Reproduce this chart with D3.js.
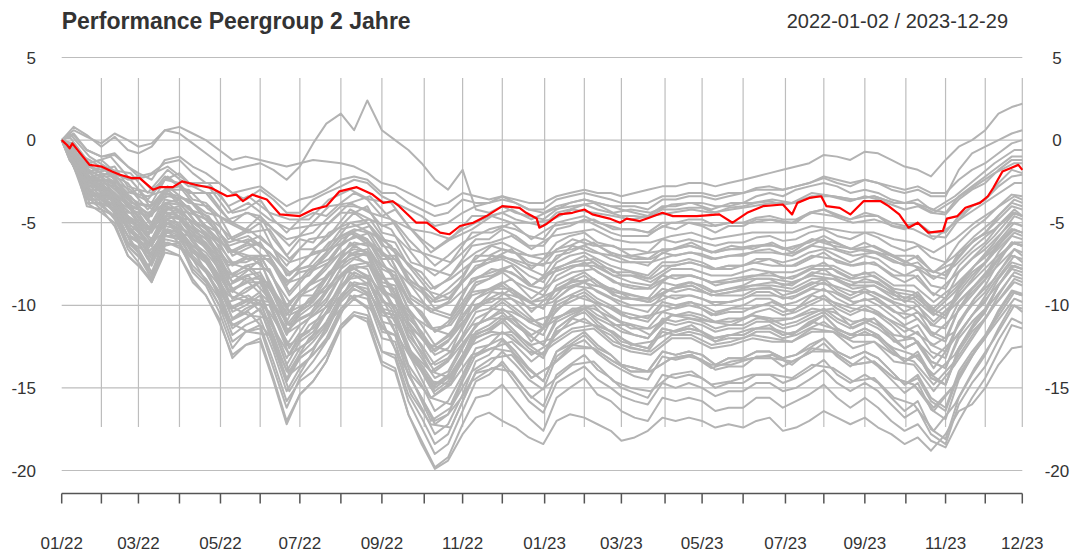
<!DOCTYPE html>
<html><head><meta charset="utf-8">
<script src="https://cdn.jsdelivr.net/npm/d3@7"></script>
<style>html,body{margin:0;padding:0;background:#fff;}svg{display:block;font-family:"Liberation Sans",Arial,Helvetica,sans-serif;}</style>
</head><body>
<svg id="chart" width="1079" height="553"></svg>
<script>
// ---------- DATA ----------
const titleText = "Performance Peergroup 2 Jahre";
const rangeText = "2022-01-02 / 2023-12-29";
const yTicks = [5, 0, -5, -10, -15, -20];
const tickDates = ["2022-01-02","2022-02-01","2022-03-01","2022-04-01","2022-05-02","2022-06-01","2022-07-01","2022-08-01","2022-09-01","2022-10-03","2022-11-01","2022-12-01","2023-01-02","2023-02-01","2023-03-01","2023-04-03","2023-05-01","2023-06-01","2023-07-03","2023-08-01","2023-09-01","2023-10-02","2023-11-01","2023-12-01","2023-12-29"];
const labelDates = ["2022-01-02","2022-03-01","2022-05-02","2022-07-01","2022-09-01","2022-11-01","2023-01-02","2023-03-01","2023-05-01","2023-07-03","2023-09-01","2023-11-01","2023-12-29"];
const tickLabels = ["01/22","03/22","05/22","07/22","09/22","11/22","01/23","03/23","05/23","07/23","09/23","11/23","12/23"];

// peer group A: sampled on the 1st / 11th / 21st of each month
const gridDatesA = ["2022-01-02","2022-01-11","2022-01-21","2022-02-01","2022-02-11","2022-02-21","2022-03-01","2022-03-11","2022-03-21","2022-04-01","2022-04-11","2022-04-21",
"2022-05-01","2022-05-11","2022-05-21","2022-06-01","2022-06-11","2022-06-21","2022-07-01","2022-07-11","2022-07-21","2022-08-01","2022-08-11","2022-08-21",
"2022-09-01","2022-09-11","2022-09-21","2022-10-01","2022-10-11","2022-10-21","2022-11-01","2022-11-11","2022-11-21","2022-12-01","2022-12-11","2022-12-21",
"2023-01-01","2023-01-11","2023-01-21","2023-02-01","2023-02-11","2023-02-21","2023-03-01","2023-03-11","2023-03-21","2023-04-01","2023-04-11","2023-04-21",
"2023-05-01","2023-05-11","2023-05-21","2023-06-01","2023-06-11","2023-06-21","2023-07-01","2023-07-11","2023-07-21","2023-08-01","2023-08-11","2023-08-21",
"2023-09-01","2023-09-11","2023-09-21","2023-10-01","2023-10-11","2023-10-21","2023-11-01","2023-11-11","2023-11-21","2023-12-01","2023-12-11","2023-12-21","2023-12-29"];

const p01 = [0,0.8,0.3,-0.4,0.2,-0.6,-0.8,-0.4,0.6,0.4,-0.2,-0.8,
-1.4,-1.8,-1.6,-1.4,-1.8,-2.4,-1.6,-0.2,1.0,1.6,0.6,2.4,
0.6,0.0,-0.6,-1.4,-2.4,-3.0,-1.8,-4.2,-4.4,-4.0,-4.4,-4.6,
-4.8,-4.2,-3.8,-3.6,-3.8,-4.0,-4.2,-4.4,-4.6,-4.0,-4.0,-3.8,
-3.8,-4.0,-4.0,-3.8,-3.4,-3.2,-3.4,-3.0,-2.8,-2.6,-2.8,-3.2,
-3.0,-3.2,-3.6,-3.8,-3.6,-4.2,-4.4,-3.4,-2.8,-2.2,-1.6,-1.0,-1.0];
const p02 = [0,0.4,-0.6,-1.0,-0.8,-1.6,-2.0,-2.4,-1.2,-1.0,-1.6,-2.0,
-2.6,-3.2,-3.0,-2.8,-3.4,-4.0,-3.6,-3.4,-3.0,-2.4,-2.2,-2.4,
-3.2,-3.2,-3.8,-4.2,-4.6,-4.4,-3.6,-3.8,-3.8,-3.6,-3.8,-4.2,
-4.4,-4.0,-3.8,-3.6,-3.8,-4.0,-4.0,-4.0,-4.2,-3.6,-3.6,-3.4,
-3.4,-3.6,-3.4,-3.2,-3.0,-3.0,-3.0,-2.8,-2.6,-2.2,-2.4,-2.6,
-2.4,-2.6,-3.0,-3.2,-3.0,-3.4,-3.4,-1.8,-0.8,-0.4,0.0,0.4,0.6];
const p03 = [0,0.6,0.2,-0.2,0.4,0.0,-0.4,-0.2,0.6,0.8,0.4,0.0,
-0.6,-1.2,-1.0,-1.2,-1.4,-1.6,-1.4,-1.2,-1.3,-1.4,-1.6,-2.0,
-2.6,-2.8,-3.2,-3.6,-4.0,-3.8,-3.2,-3.4,-3.6,-3.4,-3.6,-3.8,
-3.8,-3.4,-3.2,-3.0,-3.2,-3.2,-3.4,-3.2,-3.0,-2.8,-2.8,-2.6,
-2.6,-2.8,-2.6,-2.4,-2.2,-2.0,-1.8,-1.6,-1.4,-0.9,-1.0,-1.2,
-0.7,-0.8,-1.2,-1.6,-1.8,-2.2,-1.2,-0.4,0.0,0.6,1.6,2.0,2.2];
const p04 = [0,0.3,-0.6,-1.0,-0.9,-1.6,-2.2,-2.0,-1.4,-1.2,-2.0,-2.6,
-2.6,-3.2,-3.6,-3.0,-3.6,-4.4,-4.4,-3.6,-3.2,-2.8,-2.4,-2.6,
-3.4,-3.8,-4.2,-4.6,-5.2,-5.0,-4.4,-4.0,-3.8,-3.4,-3.8,-4.2,
-4.2,-3.6,-3.4,-3.2,-3.4,-3.6,-3.8,-3.8,-3.8,-3.4,-3.4,-3.2,
-3.2,-3.4,-3.2,-3.2,-2.9,-2.8,-3.0,-2.8,-2.6,-2.3,-2.6,-2.8,
-2.4,-2.6,-2.8,-3.0,-2.8,-3.2,-3.2,-2.4,-1.8,-1.4,-0.8,-0.2,0.0];
const p05 = [0,-0.8,-1.4,-1.2,-1.9,-2.4,-2.2,-3.0,-2.4,-2.0,-2.8,-3.2,
-3.2,-4.4,-4.2,-3.6,-4.8,-5.6,-4.8,-4.4,-4.6,-3.8,-3.2,-3.6,
-4.6,-4.2,-5.2,-6.0,-6.6,-6.0,-5.4,-5.0,-4.6,-4.4,-4.8,-5.0,
-5.2,-4.4,-4.2,-3.9,-4.2,-4.4,-4.6,-4.6,-4.7,-4.2,-4.2,-4.1,
-4.1,-4.4,-4.1,-4.0,-3.8,-3.7,-3.9,-3.8,-3.5,-3.3,-3.5,-3.7,
-3.4,-3.6,-3.9,-4.2,-4.0,-4.4,-4.5,-3.6,-3.0,-2.6,-1.8,-1.2,-1.2];
const p06 = [0,-0.2,-1.6,-1.8,-1.6,-2.8,-3.0,-3.2,-2.2,-2.8,-3.2,-3.2,
-4.2,-5.0,-4.4,-4.6,-5.4,-6.0,-5.8,-5.6,-4.8,-4.0,-4.0,-4.2,
-5.2,-5.0,-6.0,-6.8,-7.6,-7.0,-6.2,-5.8,-5.4,-5.2,-5.4,-5.8,
-6.0,-5.0,-4.8,-4.6,-5.0,-5.2,-5.4,-5.4,-5.6,-5.0,-5.0,-4.8,
-4.8,-5.2,-5.0,-5.0,-4.7,-4.6,-4.8,-4.8,-4.4,-4.2,-4.5,-4.8,
-4.4,-4.6,-5.0,-5.2,-5.0,-5.6,-5.6,-4.6,-4.0,-3.6,-2.8,-2.2,-2.1];
const p07 = [0,-1.0,-1.4,-2.0,-2.2,-2.6,-3.4,-3.8,-2.4,-2.6,-3.6,-3.8,
-4.6,-5.0,-5.4,-4.6,-6.0,-7.0,-6.0,-6.2,-5.2,-4.4,-4.4,-4.0,
-5.6,-5.8,-6.6,-7.6,-8.2,-7.6,-6.8,-6.0,-6.0,-5.4,-5.8,-6.4,
-6.4,-5.4,-5.2,-4.8,-5.2,-5.6,-5.8,-5.8,-5.8,-5.2,-5.4,-5.0,
-5.2,-5.6,-5.2,-5.2,-4.8,-4.8,-5.0,-5.0,-4.4,-4.2,-4.6,-4.8,
-4.6,-4.6,-5.2,-5.4,-5.0,-5.8,-5.9,-4.8,-4.0,-3.6,-2.6,-1.8,-2.0];
const p08 = [0,-0.4,-2.0,-1.6,-2.4,-3.2,-3.0,-4.2,-3.0,-2.8,-3.8,-4.4,
-4.6,-6.0,-5.6,-5.0,-6.6,-7.6,-6.6,-6.6,-6.0,-5.2,-4.4,-5.0,
-6.0,-6.2,-7.6,-8.0,-9.0,-8.4,-7.4,-6.8,-6.4,-6.2,-6.6,-7.0,
-7.2,-6.2,-5.8,-5.6,-6.2,-6.4,-6.6,-6.6,-6.8,-6.0,-6.2,-6.0,
-6.2,-6.4,-6.2,-6.2,-5.9,-5.8,-6.1,-6.0,-5.6,-5.4,-5.8,-6.0,
-5.6,-5.9,-6.4,-6.7,-6.4,-7.1,-7.4,-6.2,-5.4,-4.8,-4.0,-3.3,-3.4];
const p09 = [0,-1.2,-1.8,-2.2,-2.2,-3.4,-3.8,-4.0,-3.2,-3.4,-3.8,-4.6,
-5.2,-6.0,-6.2,-5.8,-6.6,-8.2,-7.6,-6.8,-6.6,-5.4,-5.2,-5.0,
-6.4,-6.6,-7.6,-8.6,-9.6,-9.0,-8.2,-7.0,-7.0,-6.6,-6.8,-7.4,
-7.6,-6.6,-6.4,-6.0,-6.4,-6.8,-7.0,-7.2,-7.2,-6.6,-6.6,-6.4,
-6.6,-6.8,-6.6,-6.6,-6.4,-6.3,-6.6,-6.4,-6.2,-5.8,-6.2,-6.6,
-6.2,-6.6,-7.0,-7.4,-7.0,-7.9,-8.2,-6.8,-6.2,-5.6,-4.8,-4.0,-4.2];
const p10 = [0,-0.6,-2.2,-2.4,-2.6,-3.6,-4.0,-4.6,-3.2,-3.6,-4.4,-4.8,
-5.6,-6.8,-6.4,-6.2,-7.4,-8.8,-7.8,-7.6,-6.8,-5.8,-5.4,-5.6,
-7.0,-7.0,-8.6,-9.2,-10.2,-9.8,-8.6,-7.6,-7.4,-7.0,-7.4,-7.8,
-8.2,-7.0,-6.8,-6.4,-6.8,-7.2,-7.4,-7.4,-7.6,-6.8,-7.0,-6.8,
-6.9,-7.2,-7.0,-7.0,-6.7,-6.6,-6.9,-6.8,-6.4,-6.0,-6.6,-6.8,
-6.6,-6.8,-7.2,-7.6,-7.4,-8.2,-8.4,-7.0,-6.2,-5.6,-4.6,-3.8,-4.0];
const p11 = [0,-1.4,-2.4,-2.2,-3.0,-3.8,-4.2,-5.0,-3.6,-3.8,-4.8,-5.4,
-6.2,-7.6,-7.2,-7.0,-8.4,-10.2,-9.2,-8.4,-7.6,-6.4,-5.8,-6.0,
-7.2,-7.2,-8.4,-9.0,-9.8,-9.6,-8.6,-7.8,-7.4,-7.2,-7.6,-8.2,
-8.6,-7.4,-7.0,-6.8,-7.2,-7.6,-7.8,-8.0,-8.2,-7.4,-7.4,-7.2,
-7.4,-7.8,-7.6,-7.6,-7.4,-7.2,-7.6,-7.6,-7.2,-6.8,-7.4,-7.6,
-7.4,-7.6,-8.2,-8.6,-8.2,-9.2,-9.6,-8.0,-7.2,-6.6,-5.8,-5.0,-5.2];
const p12 = [0,-0.6,-1.8,-2.6,-2.8,-4.0,-4.2,-5.2,-3.8,-3.6,-4.4,-5.2,
-5.6,-7.0,-6.6,-6.2,-7.4,-8.6,-8.0,-7.8,-7.0,-6.0,-5.6,-6.0,
-7.6,-8.0,-9.6,-10.6,-11.6,-11.2,-10.0,-8.8,-8.4,-7.8,-8.2,-8.8,
-9.0,-7.8,-7.4,-7.0,-7.6,-7.8,-8.2,-8.2,-8.4,-7.6,-7.6,-7.4,
-7.6,-7.8,-7.6,-7.6,-7.2,-7.2,-7.4,-7.2,-6.8,-6.6,-7.0,-7.4,
-7.0,-7.2,-7.8,-8.2,-7.8,-8.8,-9.0,-7.6,-6.8,-6.2,-5.2,-4.4,-4.6];
const p13 = [0,-0.8,-2.6,-2.4,-3.2,-4.0,-4.6,-5.4,-4.0,-4.2,-5.0,-5.6,
-6.4,-7.4,-7.4,-7.0,-8.4,-10.0,-9.2,-8.6,-7.8,-6.8,-6.2,-6.4,
-7.8,-8.2,-9.8,-10.4,-11.6,-11.0,-9.8,-8.6,-8.4,-8.0,-8.6,-9.0,
-9.4,-8.2,-7.8,-7.4,-8.0,-8.4,-8.8,-9.0,-9.0,-8.2,-8.4,-8.2,
-8.4,-8.8,-8.6,-8.4,-8.2,-8.0,-8.4,-8.2,-7.8,-7.4,-8.0,-8.4,
-8.0,-8.4,-9.0,-9.6,-9.2,-10.2,-10.6,-9.0,-8.0,-7.4,-6.4,-5.4,-5.6];
const p14 = [0,-1.2,-2.2,-2.8,-3.2,-4.4,-4.4,-5.6,-4.2,-4.0,-5.2,-5.8,
-6.8,-8.2,-7.6,-7.4,-9.0,-10.6,-9.4,-9.0,-8.4,-7.0,-6.6,-6.8,
-8.4,-8.4,-10.2,-11.2,-12.4,-11.8,-10.8,-9.6,-9.2,-8.8,-9.4,-9.8,
-10.2,-9.0,-8.6,-8.2,-8.8,-9.2,-9.6,-9.6,-9.8,-9.0,-9.2,-9.0,
-9.2,-9.4,-9.4,-9.4,-9.0,-8.9,-9.4,-9.2,-8.8,-8.4,-9.0,-9.4,
-9.0,-9.4,-9.8,-10.4,-10.0,-11.2,-11.4,-9.8,-9.0,-8.2,-7.2,-6.2,-6.4];
const p15 = [0,-0.6,-2.8,-2.6,-3.4,-4.6,-5.0,-5.4,-4.4,-4.4,-5.4,-6.0,
-7.0,-8.6,-8.0,-7.2,-9.4,-11.0,-9.4,-9.4,-8.2,-7.4,-6.8,-6.6,
-8.6,-8.8,-10.8,-11.6,-12.8,-12.2,-10.6,-9.6,-9.0,-8.6,-9.2,-9.8,
-10.2,-8.8,-8.4,-8.0,-8.6,-9.0,-9.2,-9.4,-9.6,-8.6,-8.8,-8.6,
-8.8,-9.2,-9.0,-8.8,-8.4,-8.4,-8.8,-8.6,-8.2,-7.8,-8.4,-8.8,
-8.4,-8.6,-9.2,-9.8,-9.4,-10.4,-10.8,-9.2,-8.2,-7.4,-6.2,-5.4,-5.6];
const p16 = [0,-1.0,-2.4,-3.0,-3.4,-4.6,-5.2,-6.0,-4.4,-4.6,-5.6,-6.2,
-7.2,-8.6,-8.2,-8.0,-9.4,-11.2,-10.2,-9.6,-8.8,-7.4,-6.8,-7.0,
-8.8,-9.0,-11.0,-12.0,-13.0,-12.6,-11.4,-10.0,-9.6,-9.2,-9.8,-10.6,
-11.4,-9.6,-9.0,-8.6,-9.2,-9.6,-10.0,-10.2,-10.4,-9.4,-9.6,-9.4,
-9.6,-10.0,-9.8,-9.6,-9.2,-9.2,-9.6,-9.4,-9.0,-8.6,-9.2,-9.6,
-9.2,-9.6,-10.2,-10.8,-10.4,-11.6,-12.0,-10.2,-9.2,-8.4,-7.2,-6.2,-6.4];
const p17 = [0,-1.2,-2.8,-2.8,-3.6,-4.8,-5.2,-6.2,-4.6,-4.8,-5.8,-6.4,
-7.4,-9.0,-8.6,-8.2,-9.8,-11.6,-10.6,-10.0,-9.2,-7.8,-7.2,-7.4,
-9.2,-9.4,-11.4,-12.4,-13.6,-13.2,-12.0,-10.8,-10.4,-9.8,-10.4,-11.0,
-11.4,-10.0,-9.6,-9.2,-9.8,-10.2,-10.6,-10.8,-11.0,-10.0,-10.2,-10.0,
-10.2,-10.6,-10.4,-10.4,-10.0,-10.0,-10.4,-10.2,-9.8,-9.4,-10.0,-10.4,
-10.0,-10.4,-11.0,-11.6,-11.2,-12.4,-12.8,-11.0,-10.0,-9.2,-8.0,-7.0,-7.2];
const p18 = [0,-0.8,-2.4,-3.2,-3.6,-4.6,-5.4,-6.4,-4.8,-4.6,-5.6,-6.6,
-7.6,-9.2,-8.4,-8.4,-10.0,-11.8,-10.4,-9.8,-8.8,-7.2,-6.4,-6.8,
-9.0,-9.6,-11.8,-12.8,-14.0,-13.4,-11.8,-10.4,-10.2,-9.6,-10.2,-10.8,
-11.2,-9.8,-9.4,-9.0,-9.6,-10.0,-10.4,-10.6,-10.8,-9.8,-10.0,-9.8,
-10.0,-10.4,-10.2,-10.0,-9.6,-9.6,-10.0,-9.8,-9.4,-9.0,-9.6,-10.0,
-9.6,-10.0,-10.6,-11.2,-10.8,-11.8,-12.2,-10.2,-9.0,-8.2,-6.8,-5.8,-6.0];
const p19 = [0,-1.0,-3.0,-3.0,-3.8,-5.0,-5.6,-6.4,-4.8,-5.0,-6.2,-6.8,
-7.8,-9.6,-9.2,-8.6,-10.4,-12.4,-11.2,-10.6,-9.8,-8.2,-7.6,-7.8,
-9.8,-10.0,-12.0,-13.2,-14.4,-14.0,-12.4,-11.2,-10.8,-10.4,-11.2,-11.8,
-12.4,-11.0,-10.6,-10.2,-10.8,-11.2,-11.6,-11.8,-12.0,-11.0,-11.2,-11.0,
-11.2,-11.6,-11.4,-11.4,-11.0,-11.0,-11.4,-11.2,-10.8,-10.4,-11.0,-11.4,
-11.0,-11.4,-12.0,-12.6,-12.2,-13.4,-13.8,-12.0,-11.0,-10.2,-8.8,-7.8,-8.0];
const p20 = [0,-1.4,-2.6,-3.4,-3.6,-5.2,-5.8,-6.4,-5.0,-5.4,-6.4,-7.0,
-8.2,-9.6,-9.0,-8.6,-10.0,-11.6,-10.8,-10.4,-9.6,-8.2,-7.8,-8.2,
-10.2,-10.4,-12.6,-13.8,-15.0,-14.4,-13.0,-11.6,-11.2,-10.6,-11.2,-11.8,
-12.4,-10.8,-10.4,-10.0,-10.6,-11.0,-11.4,-11.8,-12.0,-10.8,-11.0,-10.8,
-11.0,-11.4,-11.2,-11.2,-10.8,-10.8,-11.2,-11.0,-10.6,-10.2,-10.8,-11.2,
-10.8,-11.2,-11.8,-12.6,-12.2,-13.4,-13.8,-11.8,-10.6,-9.8,-8.4,-7.4,-7.6];
const p21 = [0,-0.8,-3.2,-3.4,-3.6,-5.4,-5.4,-7.0,-5.2,-5.4,-6.6,-7.2,
-8.4,-10.2,-9.8,-9.2,-11.2,-13.2,-11.8,-11.4,-10.4,-8.8,-8.2,-8.4,
-10.4,-10.6,-12.8,-14.0,-15.4,-14.8,-13.4,-12.0,-11.6,-11.0,-11.8,-12.6,
-13.2,-11.6,-11.2,-10.8,-11.4,-11.8,-12.4,-12.6,-12.8,-11.6,-11.8,-11.6,
-11.8,-12.2,-12.0,-12.0,-11.6,-11.6,-12.0,-11.8,-11.4,-11.0,-11.6,-12.0,
-11.6,-12.0,-12.8,-13.4,-13.0,-14.4,-14.8,-12.8,-11.6,-10.8,-9.4,-8.2,-8.4];
const p22 = [0,-1.0,-3.0,-3.6,-4.2,-5.4,-6.0,-7.2,-5.4,-5.6,-6.8,-7.4,
-8.6,-10.4,-10.0,-9.4,-11.4,-13.6,-12.2,-11.6,-10.4,-8.8,-8.0,-8.4,
-10.4,-10.6,-12.6,-13.6,-14.8,-14.2,-12.6,-11.2,-10.8,-10.2,-10.8,-11.4,
-11.8,-10.2,-9.8,-9.4,-10.0,-10.6,-11.0,-11.2,-11.4,-10.4,-10.6,-10.4,
-10.6,-11.0,-10.8,-10.8,-10.4,-10.2,-10.6,-10.4,-10.0,-9.6,-10.2,-10.6,
-10.2,-10.6,-11.2,-12.0,-11.6,-12.8,-13.2,-11.0,-9.8,-8.8,-7.4,-6.2,-6.4];
const p23 = [0,-1.4,-3.4,-3.2,-4.4,-5.8,-6.2,-7.4,-5.6,-5.4,-7.0,-7.8,
-8.8,-10.8,-10.4,-9.8,-11.8,-14.0,-12.6,-12.0,-11.0,-9.4,-8.6,-8.8,
-11.0,-11.2,-13.6,-14.8,-16.4,-15.8,-14.2,-12.6,-12.4,-12.0,-12.8,-13.8,
-14.6,-12.8,-12.4,-11.8,-12.6,-13.0,-13.6,-13.8,-14.0,-12.8,-13.0,-12.8,
-13.0,-13.6,-13.2,-13.2,-12.8,-12.8,-13.2,-13.0,-12.6,-12.0,-12.8,-13.2,
-12.8,-13.2,-14.0,-14.8,-14.2,-15.6,-16.2,-14.0,-12.8,-11.8,-10.4,-9.2,-9.4];
const p24 = [0,-1.0,-3.6,-3.6,-4.4,-6.2,-6.8,-8.2,-5.8,-6.0,-7.2,-8.0,
-9.4,-11.4,-10.8,-10.2,-12.4,-14.6,-13.2,-12.6,-11.6,-9.8,-9.0,-9.4,
-11.6,-11.8,-14.2,-15.6,-17.2,-16.6,-14.6,-13.0,-12.4,-11.6,-12.2,-12.8,
-13.0,-11.4,-10.8,-10.2,-11.0,-11.6,-12.0,-12.4,-12.6,-11.4,-11.6,-11.4,
-11.6,-12.0,-11.8,-11.8,-11.4,-11.2,-11.8,-11.6,-11.0,-10.6,-11.4,-11.8,
-11.4,-11.8,-12.6,-13.4,-13.0,-14.4,-14.8,-12.6,-11.4,-10.4,-8.8,-7.6,-7.8];
const p25 = [0,-1.6,-3.2,-4.0,-4.6,-6.2,-6.6,-8.0,-6.0,-6.2,-7.6,-8.4,
-9.6,-11.8,-11.2,-10.8,-12.8,-15.2,-13.8,-13.0,-12.0,-10.2,-9.4,-9.6,
-12.0,-12.2,-14.8,-16.2,-17.8,-17.2,-15.4,-13.4,-13.0,-12.1,-13.0,-13.9,
-14.6,-12.8,-12.2,-11.6,-12.4,-13.0,-13.6,-13.8,-14.0,-12.8,-13.0,-12.8,
-13.0,-13.6,-13.2,-13.2,-12.8,-12.8,-13.2,-13.0,-12.4,-12.0,-12.8,-13.2,
-12.8,-13.2,-14.0,-14.8,-14.4,-15.8,-16.4,-14.2,-13.0,-12.0,-10.4,-9.2,-9.4];
const p26 = [0,-1.2,-3.8,-3.8,-4.8,-6.4,-7.0,-8.4,-6.2,-6.4,-7.8,-8.6,
-10.0,-12.2,-11.6,-11.2,-13.4,-15.8,-14.6,-14.0,-13.0,-11.2,-10.4,-10.6,
-12.8,-13.0,-15.4,-16.8,-18.4,-17.8,-15.8,-14.0,-13.6,-12.8,-13.6,-14.5,
-15.1,-13.1,-12.5,-12.1,-12.9,-13.5,-13.9,-14.3,-14.5,-13.1,-13.3,-13.1,
-13.3,-13.9,-13.7,-13.7,-13.1,-13.1,-13.7,-13.3,-12.9,-12.3,-13.1,-13.7,
-13.1,-13.7,-14.5,-15.3,-14.7,-16.3,-16.9,-14.5,-13.1,-11.9,-10.3,-9.1,-9.3];
const p27 = [0,-1.6,-3.4,-4.2,-4.6,-6.6,-7.4,-8.6,-6.4,-6.2,-8.0,-8.8,
-10.4,-12.6,-11.6,-11.4,-13.8,-16.2,-14.4,-13.4,-12.2,-10.4,-9.6,-10.2,
-12.8,-13.2,-15.8,-17.4,-19.0,-18.4,-16.4,-14.6,-14.2,-13.4,-14.4,-15.4,
-16.1,-14.2,-13.6,-13.0,-13.9,-14.4,-15.0,-15.3,-15.6,-14.2,-14.4,-14.2,
-14.4,-15.0,-14.7,-14.7,-14.2,-14.2,-14.7,-14.4,-13.9,-13.3,-14.2,-14.7,
-14.2,-14.7,-15.6,-16.4,-15.8,-17.5,-18.1,-15.6,-14.2,-13.0,-11.4,-10.0,-10.2];
const p28 = [0,-1.2,-4.0,-4.2,-5.2,-7.0,-7.6,-8.4,-6.6,-7.0,-8.4,-9.4,
-10.8,-13.2,-12.4,-12.0,-14.4,-17.0,-15.4,-14.6,-13.4,-11.4,-10.6,-10.8,
-13.4,-13.8,-16.6,-18.2,-19.8,-19.2,-17.2,-15.6,-15.4,-14.8,-15.8,-16.8,
-17.6,-15.6,-15.0,-14.4,-15.4,-15.8,-16.4,-16.8,-17.0,-15.6,-15.8,-15.6,
-15.8,-16.4,-16.2,-16.2,-15.6,-15.6,-16.2,-15.8,-15.4,-14.8,-15.6,-16.2,
-15.6,-16.2,-17.0,-17.6,-17.2,-18.2,-18.6,-17.0,-15.6,-14.4,-12.8,-11.2,-11.4];
const p29 = [0,-1.6,-3.8,-4.4,-5.0,-7.0,-7.6,-8.6,-6.8,-7.0,-8.6,-9.4,
-11.0,-13.0,-12.4,-12.2,-14.6,-17.2,-15.4,-14.6,-13.4,-11.2,-10.6,-11.0,
-13.6,-14.0,-16.6,-18.4,-19.9,-19.4,-17.8,-16.8,-16.5,-17.0,-17.4,-18.0,
-18.4,-17.0,-16.6,-16.8,-17.2,-17.6,-18.2,-18.0,-17.6,-16.8,-17.0,-16.8,
-17.0,-17.4,-17.2,-17.4,-17.0,-16.8,-17.6,-17.4,-17.0,-16.4,-16.8,-17.2,
-16.8,-17.4,-17.8,-18.4,-18.0,-18.8,-17.8,-16.4,-16.0,-15.0,-13.6,-12.6,-12.5];
const p30 = [0,-1.0,-3.0,-3.8,-4.2,-5.8,-6.2,-7.6,-5.8,-5.8,-7.2,-8.0,
-9.2,-11.2,-10.8,-10.2,-12.2,-14.4,-13.2,-12.6,-11.4,-9.6,-8.8,-9.2,
-11.4,-11.8,-14.2,-15.6,-17.0,-16.6,-15.5,-14.1,-13.9,-13.6,-14.7,-15.8,
-16.5,-14.7,-14.2,-13.7,-14.5,-15.0,-15.5,-15.8,-16.0,-14.7,-15.0,-14.7,
-15.0,-15.5,-15.2,-15.2,-14.7,-14.7,-15.2,-15.0,-14.5,-13.9,-14.7,-15.2,
-14.7,-15.2,-16.0,-16.8,-16.3,-17.8,-18.4,-16.0,-14.7,-13.7,-12.1,-10.8,-11.1];
const p31 = [0,-0.8,-2.8,-3.6,-4.0,-5.2,-6.0,-7.0,-5.4,-5.8,-6.8,-7.2,
-8.8,-10.8,-10.2,-9.8,-12.0,-14.6,-13.0,-12.2,-11.2,-9.6,-8.8,-9.0,
-10.6,-10.8,-12.8,-13.8,-15.2,-14.6,-13.2,-11.8,-11.4,-10.8,-11.6,-12.4,
-13.0,-11.4,-10.8,-10.4,-11.2,-11.6,-12.2,-12.4,-12.6,-11.4,-11.6,-11.4,
-11.6,-12.2,-11.8,-11.8,-11.4,-11.4,-11.8,-11.6,-11.2,-10.6,-11.4,-11.8,
-11.4,-11.8,-12.6,-13.4,-12.8,-14.2,-14.8,-12.6,-11.4,-10.4,-8.8,-7.6,-7.8];
const peersA = [p01,p02,p03,p04,p05,p06,p07,p08,p09,p10,p11,p12,p13,p14,p15,p16,p17,p18,p19,p20,p21,p22,p23,p24,p25,p26,p27,p28,p29,p30,p31];

// peer group B: sampled on the 8th / 23rd of each month
const gridDatesB = ["2022-01-02","2022-01-08","2022-01-23","2022-02-08","2022-02-23","2022-03-08","2022-03-23","2022-04-08","2022-04-23","2022-05-08",
"2022-05-23","2022-06-08","2022-06-23","2022-07-08","2022-07-23","2022-08-08","2022-08-23","2022-09-08","2022-09-23","2022-10-08",
"2022-10-23","2022-11-08","2022-11-23","2022-12-08","2022-12-23","2023-01-08","2023-01-23","2023-02-08","2023-02-23","2023-03-08",
"2023-03-23","2023-04-08","2023-04-23","2023-05-08","2023-05-23","2023-06-08","2023-06-23","2023-07-08","2023-07-23","2023-08-08",
"2023-08-23","2023-09-08","2023-09-23","2023-10-08","2023-10-23","2023-11-08","2023-11-23","2023-12-08","2023-12-23","2023-12-29"];
const q01 = [0,0.2,-1.4,-1.0,-2.4,-2.2,-1.6,-2.6,-2.6,-4.0,-3.4,-4.4,-4.8,-4.8,-3.6,-3.0,-3.6,-3.8,-5.4,-5.6,-6.0,-4.6,-4.6,-4.2,-4.8,-4.2,-4.0,-3.8,-4.4,-4.2,-4.4,-3.9,-3.8,-4.2,-3.8,-3.8,-3.6,-3.8,-3.2,-3.4,-3.6,-3.4,-3.8,-3.8,-4.4,-3.6,-2.8,-2.0,-1.4,-1.4];
const q02 = [0,-0.6,-1.2,-2.0,-2.4,-3.6,-2.2,-3.2,-3.2,-4.8,-4.4,-5.2,-6.4,-5.2,-5.0,-3.8,-4.4,-4.8,-6.6,-7.0,-7.4,-5.6,-5.6,-5.0,-6.0,-5.2,-5.0,-4.8,-5.4,-5.4,-5.6,-5.0,-5.0,-5.2,-5.0,-5.0,-4.8,-5.0,-4.4,-4.6,-5.0,-4.8,-5.2,-5.4,-6.0,-5.0,-4.2,-3.4,-2.6,-2.6];
const q03 = [0,-0.2,-2.0,-1.8,-3.2,-3.4,-3.0,-3.0,-4.2,-5.0,-5.6,-5.4,-7.2,-6.0,-5.8,-4.2,-4.8,-5.4,-7.4,-7.8,-8.2,-6.4,-6.2,-5.8,-6.6,-5.8,-5.6,-5.4,-6.0,-6.2,-6.2,-5.8,-5.6,-6.0,-5.8,-5.6,-5.6,-5.6,-5.2,-5.4,-5.6,-5.6,-6.0,-6.2,-6.8,-6.0,-5.0,-4.2,-3.4,-3.6];
const q04 = [0,-0.8,-1.6,-2.4,-3.0,-4.2,-2.8,-3.8,-4.0,-6.0,-5.4,-6.4,-7.4,-7.0,-5.6,-5.0,-4.8,-6.6,-7.6,-9.0,-8.4,-7.4,-6.4,-6.8,-7.0,-6.8,-6.0,-6.4,-6.4,-7.0,-6.8,-6.6,-6.2,-6.8,-6.4,-6.6,-6.2,-6.8,-6.0,-6.4,-6.6,-6.8,-7.0,-7.6,-8.0,-7.4,-6.0,-5.4,-4.2,-4.6];
const q05 = [0,-0.2,-2.2,-2.0,-3.8,-4.0,-3.4,-3.6,-5.0,-6.2,-5.8,-6.8,-8.2,-7.0,-6.6,-5.0,-5.6,-6.4,-8.6,-9.2,-9.6,-7.4,-7.2,-6.6,-7.8,-6.8,-6.6,-6.2,-7.0,-7.0,-7.2,-6.6,-6.4,-6.8,-6.6,-6.4,-6.4,-6.6,-6.0,-6.2,-6.6,-6.4,-7.0,-7.0,-8.0,-7.0,-5.8,-4.8,-3.6,-3.8];
const q06 = [0,-0.8,-2.0,-2.8,-3.6,-4.8,-3.2,-4.4,-4.8,-6.8,-6.2,-7.4,-8.6,-8.2,-6.6,-6.0,-5.6,-7.6,-8.8,-10.4,-9.8,-8.6,-7.8,-8.0,-8.8,-8.0,-7.6,-7.4,-8.2,-8.2,-8.6,-7.8,-7.8,-8.2,-8.2,-7.8,-8.0,-8.0,-7.6,-7.6,-8.2,-8.0,-8.8,-8.8,-9.8,-8.8,-7.6,-6.6,-5.4,-5.6];
const q07 = [0,-0.4,-2.6,-2.4,-4.2,-4.6,-3.8,-4.0,-5.6,-6.6,-7.2,-7.2,-9.4,-8.0,-7.4,-5.6,-6.4,-7.2,-9.6,-10.4,-10.8,-8.4,-8.2,-7.6,-8.8,-7.8,-7.4,-7.2,-8.0,-8.0,-8.4,-7.6,-7.4,-7.8,-7.8,-7.4,-7.6,-7.6,-7.0,-7.2,-7.6,-7.4,-8.2,-8.2,-9.4,-8.2,-7.0,-5.8,-4.4,-4.6];
const q08 = [0,-1.0,-2.4,-3.0,-4.0,-5.4,-3.8,-4.8,-5.4,-7.6,-7.0,-8.0,-9.8,-8.8,-7.4,-6.4,-6.2,-8.2,-9.8,-11.4,-11.2,-9.4,-9.0,-9.0,-9.8,-9.2,-8.6,-8.4,-9.2,-9.4,-9.6,-9.0,-8.8,-9.4,-9.2,-9.0,-9.0,-9.2,-8.6,-8.8,-9.2,-9.2,-9.8,-10.2,-11.2,-10.0,-8.8,-7.4,-6.2,-6.4];
const q09 = [0,-0.6,-2.2,-3.2,-4.0,-5.6,-4.2,-4.4,-6.0,-7.4,-7.8,-7.8,-10.4,-8.8,-8.2,-6.2,-7.0,-8.0,-10.6,-11.4,-11.8,-9.2,-9.0,-8.4,-9.6,-8.6,-8.0,-7.8,-8.6,-8.8,-9.0,-8.2,-8.2,-8.6,-8.4,-8.2,-8.2,-8.4,-7.8,-7.8,-8.4,-8.2,-9.0,-9.2,-10.2,-9.0,-7.6,-6.4,-5.0,-5.2];
const q10 = [0,-1.2,-2.4,-3.4,-4.2,-5.8,-4.0,-5.2,-5.8,-8.2,-7.6,-8.8,-10.4,-9.8,-8.0,-7.0,-6.8,-9.0,-10.6,-12.6,-11.8,-10.4,-9.6,-9.6,-10.2,-9.8,-8.8,-9.0,-9.6,-10.0,-10.0,-9.4,-9.4,-9.8,-9.8,-9.4,-9.4,-9.6,-9.0,-9.2,-9.8,-9.6,-10.4,-10.6,-11.8,-10.6,-9.2,-7.8,-6.6,-6.8];
const q11 = [0,-0.4,-2.8,-3.0,-5.0,-5.4,-4.6,-4.8,-6.6,-8.0,-8.6,-8.6,-11.2,-9.6,-9.0,-6.8,-7.6,-8.8,-11.4,-12.4,-12.8,-10.0,-9.8,-9.0,-10.4,-9.2,-8.8,-8.4,-9.4,-9.6,-9.8,-9.0,-8.8,-9.4,-9.2,-8.8,-8.8,-9.0,-8.4,-8.4,-9.0,-8.8,-9.6,-9.8,-11.0,-9.8,-8.2,-6.8,-5.6,-5.8];
const q12 = [0,-0.8,-3.0,-3.0,-5.2,-5.6,-4.8,-5.6,-6.4,-8.8,-8.2,-9.6,-11.2,-10.6,-8.8,-7.6,-7.4,-9.8,-11.4,-13.6,-12.8,-11.2,-10.8,-10.8,-11.8,-11.0,-10.2,-10.2,-10.8,-11.4,-11.4,-10.6,-10.6,-11.0,-11.0,-10.6,-10.8,-10.8,-10.2,-10.4,-11.0,-10.8,-11.8,-12.0,-13.2,-12.0,-10.4,-9.0,-7.6,-7.8];
const q13 = [0,-0.4,-2.6,-3.6,-4.8,-6.4,-4.4,-5.8,-6.6,-9.2,-8.6,-9.8,-11.6,-10.8,-9.0,-7.8,-7.6,-10.0,-11.8,-14.0,-13.2,-11.6,-10.2,-10.4,-11.0,-10.6,-9.4,-9.8,-10.2,-10.8,-10.6,-10.2,-9.8,-10.6,-10.2,-10.2,-9.8,-10.4,-9.4,-9.8,-10.2,-10.4,-11.0,-11.6,-12.4,-11.6,-9.6,-8.4,-6.6,-7.0];
const q14 = [0,-1.0,-3.2,-3.4,-5.6,-6.2,-5.0,-5.6,-7.4,-9.0,-9.6,-9.8,-12.6,-10.8,-10.0,-7.6,-8.4,-9.8,-12.8,-14.0,-14.4,-12.0,-11.6,-11.8,-13.0,-12.2,-11.4,-11.2,-12.2,-12.6,-12.8,-11.8,-11.8,-12.4,-12.2,-11.8,-12.0,-12.2,-11.4,-11.6,-12.2,-12.2,-13.0,-13.4,-14.8,-13.4,-11.6,-10.0,-8.6,-8.8];
const q15 = [0,-0.8,-3.4,-3.4,-5.8,-6.4,-5.4,-5.8,-7.6,-9.4,-9.8,-10.0,-13.0,-11.2,-10.4,-8.0,-8.8,-10.2,-13.2,-14.6,-14.8,-11.8,-11.4,-10.6,-12.2,-10.8,-10.4,-10.0,-11.2,-11.2,-11.8,-10.6,-10.8,-11.0,-11.2,-10.6,-11.0,-10.8,-10.4,-10.2,-11.4,-10.8,-12.2,-12.0,-13.8,-12.0,-10.4,-8.6,-7.0,-7.4];
const q16 = [0,-1.2,-3.0,-4.0,-5.4,-7.2,-5.0,-6.4,-7.4,-10.2,-9.6,-11.0,-13.0,-12.2,-10.2,-8.8,-8.6,-11.2,-13.2,-15.6,-14.8,-13.0,-12.6,-12.8,-14.4,-13.6,-12.6,-12.6,-13.4,-14.0,-14.0,-13.2,-13.0,-13.6,-13.6,-13.2,-13.2,-13.4,-12.8,-12.8,-13.6,-13.4,-14.4,-14.8,-16.2,-14.8,-12.8,-11.2,-9.6,-9.8];
const q17 = [0,-0.6,-3.6,-3.6,-6.2,-6.8,-5.6,-6.2,-8.2,-10.0,-10.6,-10.8,-14.0,-12.0,-11.0,-8.6,-9.4,-11.0,-14.2,-15.6,-16.0,-13.2,-12.6,-12.2,-13.4,-12.4,-11.6,-11.4,-12.4,-12.8,-13.0,-12.0,-12.0,-12.6,-12.4,-12.0,-12.2,-12.2,-11.6,-11.6,-12.6,-12.2,-13.4,-13.6,-15.2,-13.6,-11.8,-10.0,-8.4,-8.6];
const q18 = [0,-1.0,-3.4,-4.4,-6.0,-7.8,-5.4,-7.0,-8.0,-11.0,-10.4,-11.8,-14.2,-13.2,-11.0,-9.6,-9.2,-12.2,-14.4,-17.0,-16.2,-14.0,-13.2,-13.0,-14.4,-13.6,-12.4,-12.6,-13.4,-14.0,-14.0,-13.2,-13.0,-13.8,-13.4,-13.2,-13.0,-13.6,-12.6,-12.8,-13.6,-13.4,-14.4,-14.8,-16.4,-14.8,-12.8,-11.0,-9.2,-9.4];
const q19 = [0,-0.6,-3.8,-4.0,-6.6,-7.6,-6.2,-6.8,-8.8,-11.0,-11.6,-11.8,-15.2,-13.2,-12.0,-9.4,-10.2,-12.0,-15.4,-17.2,-17.4,-14.6,-13.8,-14.0,-15.6,-14.6,-13.6,-13.4,-14.6,-15.0,-15.2,-14.2,-14.0,-14.8,-14.6,-14.2,-14.2,-14.4,-13.6,-13.8,-14.6,-14.4,-15.6,-16.0,-17.6,-16.0,-13.8,-12.0,-10.0,-10.4];
const q20 = [0,0.4,-1.0,-1.8,-2.0,-3.2,-1.8,-2.8,-2.8,-4.4,-3.8,-4.8,-5.4,-5.2,-4.0,-3.8,-3.4,-4.8,-5.4,-6.8,-6.0,-5.4,-4.6,-5.0,-5.0,-4.8,-4.2,-4.4,-4.6,-4.8,-4.6,-4.4,-4.2,-4.4,-4.2,-4.0,-3.8,-3.8,-3.4,-3.4,-3.6,-3.4,-3.8,-3.8,-4.2,-3.4,-2.4,-1.4,-0.6,-0.6];
const q21 = [0,-0.2,-2.4,-2.4,-4.0,-4.4,-3.8,-4.0,-5.4,-6.6,-7.0,-7.0,-9.2,-7.8,-7.2,-5.6,-6.2,-7.2,-9.4,-10.2,-10.6,-8.4,-8.0,-7.6,-8.8,-8.0,-7.6,-7.6,-8.2,-8.6,-8.8,-8.2,-8.2,-8.6,-8.6,-8.4,-8.4,-8.6,-8.2,-8.4,-8.8,-8.8,-9.4,-9.6,-10.6,-9.6,-8.4,-7.2,-6.2,-6.2];
const q22 = [0,-1.0,-2.4,-3.4,-4.4,-5.8,-4.0,-5.4,-6.0,-8.4,-7.8,-9.0,-10.6,-10.0,-8.2,-7.2,-6.8,-9.2,-10.8,-12.8,-12.0,-10.4,-9.2,-9.4,-9.8,-9.6,-8.4,-8.8,-9.0,-9.6,-9.6,-9.0,-8.6,-9.2,-9.0,-8.8,-8.6,-8.8,-8.0,-8.2,-8.6,-8.6,-9.2,-9.4,-10.4,-9.2,-7.6,-6.2,-4.6,-4.8];
const q23 = [0,-1.2,-3.0,-3.8,-5.4,-6.6,-4.8,-6.2,-7.2,-9.8,-9.4,-10.4,-12.4,-11.6,-9.8,-8.4,-8.2,-10.6,-12.8,-15.0,-14.2,-12.4,-11.8,-11.6,-12.4,-12.0,-10.8,-11.2,-11.6,-12.4,-12.2,-11.6,-11.2,-12.0,-11.8,-11.4,-11.4,-11.8,-11.0,-11.4,-11.8,-11.8,-12.6,-13.0,-14.2,-13.0,-11.0,-9.6,-8.0,-8.2];
const q24 = [0,-0.8,-1.8,-2.6,-3.4,-4.6,-3.0,-4.2,-4.6,-6.4,-6.0,-6.8,-8.0,-7.6,-6.2,-5.6,-5.2,-7.0,-8.2,-9.8,-9.2,-8.0,-7.0,-7.2,-7.6,-7.4,-6.4,-6.8,-7.0,-7.4,-7.4,-7.0,-6.8,-7.2,-7.0,-6.8,-6.8,-7.0,-6.4,-6.6,-7.0,-6.8,-7.4,-7.6,-8.4,-7.6,-6.4,-5.4,-4.4,-4.6];
const peersB = [q01,q02,q03,q04,q05,q06,q07,q08,q09,q10,q11,q12,q13,q14,q15,q16,q17,q18,q19,q20,q21,q22,q23,q24];

// the highlighted fund (red)
const fundDates = ["2022-01-02","2022-01-06","2022-01-08","2022-01-10","2022-01-23","2022-02-01","2022-02-09","2022-02-15","2022-02-24","2022-03-02",
"2022-03-12","2022-03-17","2022-03-27","2022-04-03","2022-04-13","2022-04-25","2022-05-07","2022-05-14","2022-05-19","2022-05-26",
"2022-06-06","2022-06-16","2022-07-01","2022-07-11","2022-07-21","2022-07-31","2022-08-13","2022-08-25","2022-09-02","2022-09-09",
"2022-09-14","2022-09-27","2022-10-05","2022-10-15","2022-10-22","2022-10-30","2022-11-09","2022-11-19","2022-12-01","2022-12-14",
"2022-12-19","2022-12-27","2022-12-29","2023-01-03","2023-01-13","2023-01-23","2023-02-01","2023-02-07","2023-02-20","2023-02-28",
"2023-03-05","2023-03-15","2023-03-22","2023-04-01","2023-04-09","2023-04-27","2023-05-14","2023-05-24","2023-06-04","2023-06-16",
"2023-07-01","2023-07-08","2023-07-12","2023-07-21","2023-07-30","2023-08-03","2023-08-13","2023-08-21","2023-08-31","2023-09-13",
"2023-09-19","2023-09-27","2023-10-04","2023-10-11","2023-10-19","2023-10-30","2023-11-02","2023-11-10","2023-11-16","2023-11-27",
"2023-12-03","2023-12-07","2023-12-14","2023-12-20","2023-12-26","2023-12-29"];
const fundValues = [0,-0.3,-0.5,-0.2,-1.5,-1.6,-1.9,-2.1,-2.3,-2.3,
-3.0,-2.85,-2.85,-2.5,-2.7,-2.9,-3.4,-3.3,-3.7,-3.3,
-3.6,-4.5,-4.6,-4.2,-4.0,-3.1,-2.85,-3.3,-3.8,-3.7,
-4.0,-5.0,-5.0,-5.6,-5.7,-5.2,-5.0,-4.6,-4.0,-4.1,
-4.4,-4.75,-5.3,-5.1,-4.5,-4.4,-4.2,-4.5,-4.75,-5.0,
-4.75,-4.9,-4.7,-4.4,-4.6,-4.6,-4.5,-5.0,-4.4,-4.0,
-3.9,-4.5,-3.8,-3.5,-3.4,-4.0,-4.1,-4.5,-3.7,-3.7,
-4.0,-4.5,-5.3,-5.0,-5.6,-5.5,-4.75,-4.6,-4.1,-3.8,
-3.4,-2.9,-1.9,-1.7,-1.5,-1.8];

// ---------- DRAWING ----------
const parse = d3.utcParse("%Y-%m-%d");
const svg = d3.select("#chart");
const x = d3.scaleUtc().domain([parse("2022-01-02"), parse("2023-12-29")]).range([61.7, 1022.3]);
const y = d3.scaleLinear().domain([-20, 5]).range([470.5, 57.5]);
const vGridTop = 78, vGridBottom = 427, axisY = 493.5;

peersA.forEach((s, k) => { if (s.length !== gridDatesA.length) console.error("peerA " + (k+1) + " has " + s.length); });
peersB.forEach((s, k) => { if (s.length !== gridDatesB.length) console.error("peerB " + (k+1) + " has " + s.length); });
if (fundDates.length !== fundValues.length) console.error("fund length mismatch");

svg.append("g").selectAll("line").data(yTicks).join("line")
  .attr("x1", x.range()[0]).attr("x2", x.range()[1])
  .attr("y1", d => y(d)).attr("y2", d => y(d))
  .attr("stroke", "#bdbdbd").attr("stroke-width", 1.2);

svg.append("g").selectAll("line").data(tickDates.slice(1)).join("line")
  .attr("x1", d => x(parse(d))).attr("x2", d => x(parse(d)))
  .attr("y1", vGridTop).attr("y2", vGridBottom)
  .attr("stroke", "#bdbdbd").attr("stroke-width", 1.2);

const yl = svg.append("g").attr("font-size", 17).attr("fill", "#333");
yl.selectAll("text.l").data(yTicks).join("text").attr("class","l")
  .attr("x", 36).attr("y", d => y(d)).attr("dy", "0.36em").attr("text-anchor", "end").text(d => d);
yl.selectAll("text.r").data(yTicks).join("text").attr("class","r")
  .attr("x", 1057).attr("y", d => y(d)).attr("dy", "0.36em").attr("text-anchor", "middle").text(d => d);

const line = d3.line().x(d => x(d[0])).y(d => y(d[1]));
const gA = gridDatesA.map(parse), gB = gridDatesB.map(parse);
const peerPaths = peersA.map(s => gA.map((d, i) => [d, s[i]]))
  .concat(peersB.map(s => gB.map((d, i) => [d, s[i]])));
svg.append("g").selectAll("path").data(peerPaths).join("path")
  .attr("d", pts => line(pts.filter(p => p[1] !== undefined)))
  .attr("fill", "none").attr("stroke", "#b3b3b3").attr("stroke-width", 2).attr("stroke-linejoin", "round");

svg.append("path")
  .attr("d", line(fundDates.map((d, i) => [parse(d), fundValues[i]])))
  .attr("fill", "none").attr("stroke", "#ff0000").attr("stroke-width", 2.2).attr("stroke-linejoin", "round");

const ax = svg.append("g");
ax.append("line").attr("x1", x.range()[0]).attr("x2", x.range()[1]).attr("y1", axisY).attr("y2", axisY)
  .attr("stroke", "#555").attr("stroke-width", 1.5);
ax.selectAll("line.t").data(tickDates).join("line").attr("class","t")
  .attr("x1", d => x(parse(d))).attr("x2", d => x(parse(d)))
  .attr("y1", axisY).attr("y2", axisY + 10).attr("stroke", "#555").attr("stroke-width", 1.5);
ax.selectAll("text").data(labelDates).join("text")
  .attr("x", d => x(parse(d))).attr("y", 549).attr("text-anchor", "middle")
  .attr("font-size", 17).attr("fill", "#333").text((d, i) => tickLabels[i]);

svg.append("text").attr("x", 61.7).attr("y", 28.5).attr("font-size", 23).attr("font-weight", "bold")
  .attr("fill", "#333").text(titleText);
svg.append("text").attr("x", 1008).attr("y", 28).attr("font-size", 20).attr("text-anchor", "end")
  .attr("fill", "#333").text(rangeText);
</script>
</body></html>
